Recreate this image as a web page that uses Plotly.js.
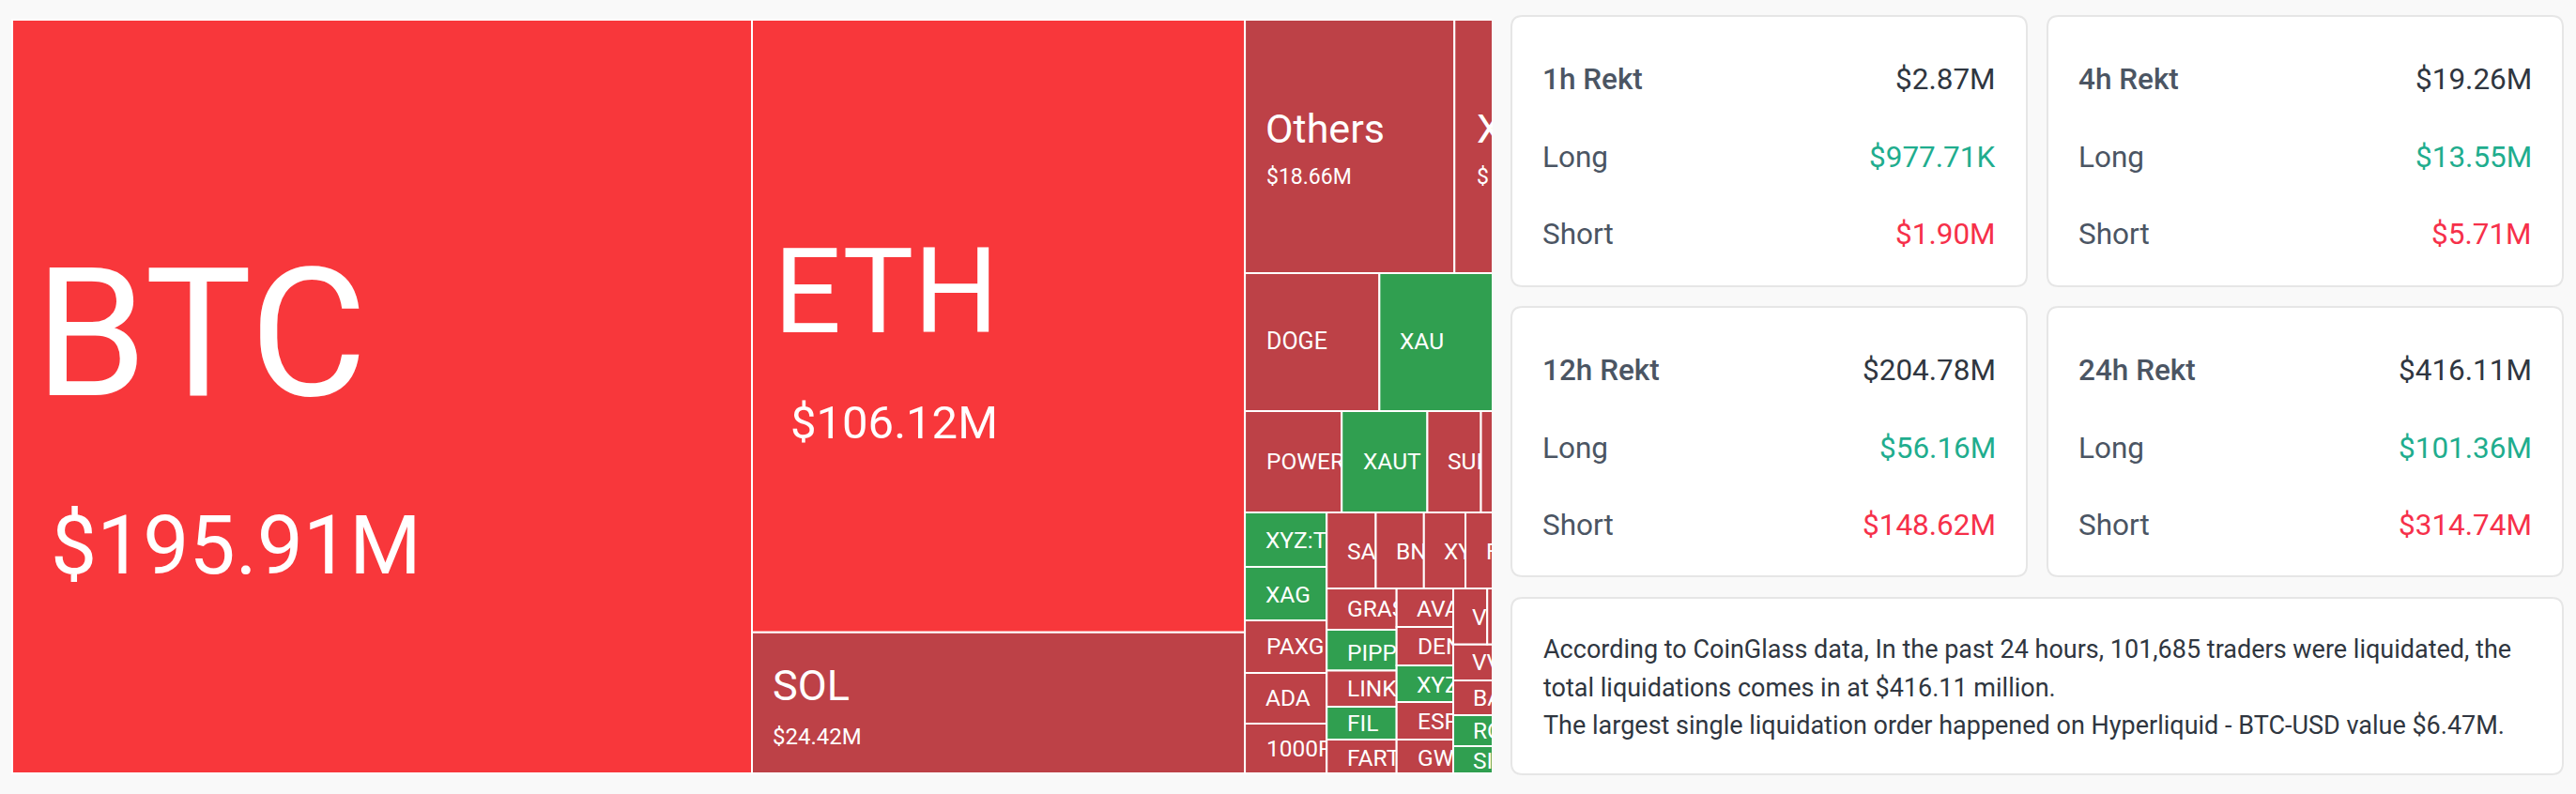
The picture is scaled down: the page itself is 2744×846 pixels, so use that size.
<!DOCTYPE html>
<html><head><meta charset="utf-8">
<script src="https://cdn.plot.ly/plotly-3.0.1.min.js"></script>
<style>html,body{margin:0;padding:0;background:#f9f9f9;overflow:hidden}#g{width:2744px;height:846px}</style>
</head><body><div id="g"></div>
<script>
// ---- treemap data ($M, hidden/clipped cells estimated) ----
const cellNames = ["BTC","ETH","SOL","Others","X","DOGE","XAU","POWER","XAUT","SUI","Next",
  "XYZ:TS","XAG","PAXG","ADA","1000P","SA","BN","XY","F",
  "GRAS","PIPP","LINK","FIL","FART","AVA","DEN","XYZ","ESP","GW",
  "V","V2","VV","BA","RO","SI"];
const cellParents = ["All","Col2","Col2","Row1","Row1","Row2","Row2","Row3","Row3","Row3","Row3",
  "ColA","ColA","ColA","ColA","ColA","TopRow","TopRow","TopRow","TopRow",
  "ColB1","ColB1","ColB1","ColB1","ColB1","ColB2","ColB2","ColB2","ColB2","ColB2",
  "VRow","VRow","ColB3","ColB3","ColB3","ColB3"];
const cellValues = [195.91,106.12,24.42,18.66,11.49,6.52,9.89,3.45,3.05,1.91,3.65,
  1.565,1.538,1.511,1.457,1.43,1.31,1.286,1.11,3.15,
  1.014,1.003,0.887,0.807,0.83,0.766,0.766,0.729,0.747,0.672,
  0.667,1.888,1.653,1.589,1.417,1.245];
const cellSide = ["L","L","S","S","S","S","G","S","G","S","S",
  "G","G","S","S","S","S","S","S","S",
  "S","G","S","G","S","S","S","G","S","S",
  "S","S","S","S","G","G"];
const groupNames = ["All","Col2","Col3","Row1","Row2","Row3","Row4","ColA","ColB","TopRow","LowRow","ColB1","ColB2","ColB3","VRow"];
const groupParents = ["","All","All","Col3","Col3","Col3","Col3","Row4","Row4","ColB","ColB","LowRow","LowRow","LowRow","ColB3"];

// ---- panel data ----
const periods = ["1h Rekt","4h Rekt","12h Rekt","24h Rekt"];
const totals = ["$2.87M","$19.26M","$204.78M","$416.11M"];
const longs = ["$977.71K","$13.55M","$56.16M","$101.36M"];
const shorts = ["$1.90M","$5.71M","$148.62M","$314.74M"];
const summary = ["According to CoinGlass data, In the past 24 hours, 101,685 traders were liquidated, the",
  "total liquidations comes in at $416.11 million.",
  "The largest single liquidation order happened on Hyperliquid - BTC-USD value $6.47M."];

// ---- cell label placement: [text, left px, centre px, font px, clip px] ----
const labelPlacement = [
 ["BTC",36,356,192,800],["$195.91M",53,581,87.5,800],
 ["ETH",823,310,127,1326],["$106.12M",841,450,49,1326],
 ["SOL",822,730,45,1326],["$24.42M",822,785,24,1326],
 ["Others",1347,137,43,1550],["$18.66M",1348,188,23,1550],
 ["X",1572,137,43,1589],["$",1572,188,23,1589],
 ["DOGE",1348,363,25,1469],["XAU",1490,363,24.5,1589],
 ["POWER",1348,492,24.5,1429],["XAUT",1451,492,24.5,1520],["SUI",1541,492,24.5,1577],
 ["XYZ:TS",1347,575,24.5,1413],["XAG",1347,633,24.5,1413],["PAXG",1348,688,24.5,1413],["ADA",1347,743,24.5,1413],["1000P",1348,797,24.5,1413],
 ["SA",1434,587,24.5,1465],["BN",1486,587,24.5,1516],["XY",1537,587,24.5,1560],["F",1582,587,24.5,1589],
 ["GRAS",1434,648,24.5,1487],["PIPP",1434,695,24.5,1487],["LINK",1434,733,24.5,1487],["FIL",1434,770,24.5,1487],["FART",1434,807,24.5,1487],
 ["AVA",1508,648,24.5,1547],["DEN",1509,688,24.5,1547],["XYZ",1508,729,24.5,1547],["ESP",1509,768,24.5,1547],["GW",1509,807,24.5,1547],
 ["V",1567,657,24.5,1583],["VV",1567,705,24.5,1589],["BA",1568,743,24.5,1589],["RO",1568,778,24.5,1589],["SI",1568,810,24.5,1589]
];

const W=2744,H=846;
const px=v=>v/W, py=v=>1-v/H;
const palette={L:"#f8373b",S:"#bd4147",G:"#309f50"};
const FONT="Roboto, sans-serif";

function card(x0,y0,x1,y1,r,fill,line){
  const c=[
   `M${px(x0+r)},${py(y0)}`,`L${px(x1-r)},${py(y0)}`,`Q${px(x1)},${py(y0)} ${px(x1)},${py(y0+r)}`,
   `L${px(x1)},${py(y1-r)}`,`Q${px(x1)},${py(y1)} ${px(x1-r)},${py(y1)}`,
   `L${px(x0+r)},${py(y1)}`,`Q${px(x0)},${py(y1)} ${px(x0)},${py(y1-r)}`,
   `L${px(x0)},${py(y0+r)}`,`Q${px(x0)},${py(y0)} ${px(x0+r)},${py(y0)}Z`].join(" ");
  return {type:"path",xref:"paper",yref:"paper",path:c,fillcolor:fill,line:{color:line,width:2},layer:"above"};
}
const cardBoxes=[[1610,17,2159,305],[2181,17,2730,305],[1610,327,2159,614],[2181,327,2730,614]];
const shapes=[{type:"rect",xref:"paper",yref:"paper",x0:px(1589),x1:1,y0:0,y1:1,fillcolor:"#f9f9f9",line:{width:0},layer:"above"}];
cardBoxes.forEach(b=>shapes.push(card(b[0],b[1],b[2],b[3],12,"#ffffff","#e6e6e6")));
shapes.push(card(1610,637,2730,825,12,"#ffffff","#e6e6e6"));

const ann=[];
function txt(text,x,y,size,color,anchor,extra){
  ann.push(Object.assign({xref:"paper",yref:"paper",x:px(x),y:py(y),text,showarrow:false,xanchor:anchor,yanchor:"middle",
    align:anchor,borderpad:0,font:{family:FONT,size,color}},extra||{}));
}
labelPlacement.forEach(l=>txt(l[0],l[1],l[2],l[3],"#ffffff","left",{width:Math.max(1,l[4]-l[1])}));
cardBoxes.forEach((b,i)=>{
  const lx=b[0]+32, rx=b[2]-32, base=b[1], fs=31.5;
  txt(periods[i],lx,base+67,fs,"#4b5563","left",{font:{family:FONT,size:fs,color:"#4b5563",weight:500}});
  txt(totals[i],rx,base+67,fs,"#2f3640","right");
  txt("Long",lx,base+150,fs,"#4b5563","left");
  txt(longs[i],rx,base+150,fs,"#1fad8e","right");
  txt("Short",lx,base+232,fs,"#4b5563","left");
  txt(shorts[i],rx,base+232,fs,"#f6304a","right");
});
[692,733,773].forEach((y,i)=>txt(summary[i],1643,y,27,"#2f3640","left"));

// BTC first, then groups, so that the children keep the reference's reading order
const labels=[cellNames[0]].concat(groupNames,cellNames.slice(1));
const parents=[cellParents[0]].concat(groupParents,cellParents.slice(1));
const values=[cellValues[0]].concat(groupNames.map(()=>0),cellValues.slice(1));
const colors=[palette[cellSide[0]]].concat(groupNames.map(()=>"#ffffff"),cellSide.slice(1).map(s=>palette[s]));

Plotly.newPlot("g",[{
  type:"treemap",labels,parents,values,branchvalues:"remainder",
  domain:{x:[px(13),px(1686.7)],y:[1-824/H,1-21/H]},
  textinfo:"none",hoverinfo:"label+value",sort:false,
  tiling:{packing:"slice-dice",pad:0},pathbar:{visible:false},
  marker:{colors,depthfade:false,pad:{t:0,l:0,r:0,b:0},line:{color:"#ffffff",width:2}},
  leaf:{opacity:1}
}],{width:W,height:H,margin:{l:0,r:0,t:0,b:0},paper_bgcolor:"#f9f9f9",showlegend:false,shapes,annotations:ann,font:{family:FONT}},
{displayModeBar:false});
</script></body></html>
